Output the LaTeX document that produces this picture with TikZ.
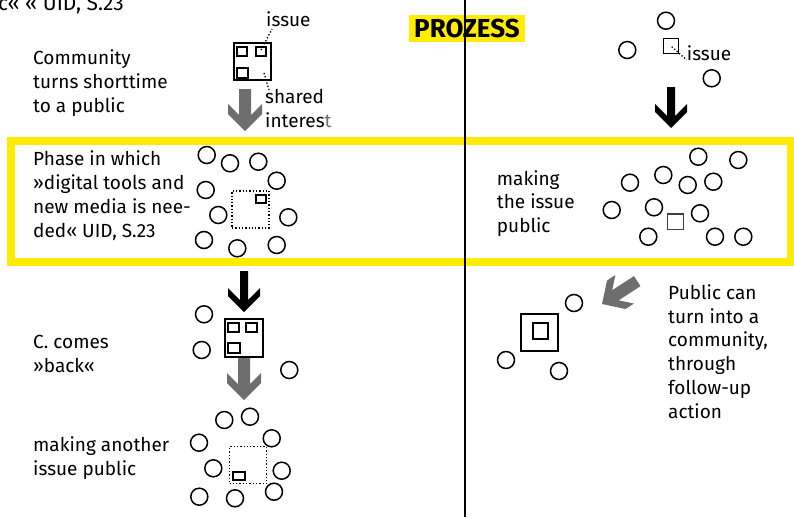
\documentclass[tikz,border=0pt]{standalone}
\usepackage{fontspec}
\setmainfont{Fira Sans}
\definecolor{hlyellow}{RGB}{255,236,0}
\definecolor{arrowgray}{RGB}{110,110,110}
\tikzset{
  txt/.style={font=\fontsize{19}{23.7}\selectfont, align=left, anchor=base west, inner sep=0pt},
  circ/.style={circle, draw, line width=1.5pt, minimum size=17pt, inner sep=0pt},
  thickbox/.style={draw, line width=2pt, inner sep=0pt},
  smallbox/.style={draw, line width=1.8pt, inner sep=0pt},
  thinbox/.style={draw, line width=1.2pt, inner sep=0pt},
  dotbox/.style={draw, line width=1.3pt, dotted, inner sep=0pt, minimum size=37pt},
  leader/.style={line width=1.3pt, dotted},
  pics/grayarrow/.style={code={
    \fill[arrowgray] (0,0) -- (-17,-17) -- (-17,-27) -- (-6,-16) -- (-6,-42)
      -- (6,-42) -- (6,-16) -- (17,-27) -- (17,-17) -- cycle;}},
  pics/blackarrow/.style={code={
    \fill[black] (0,0) -- (-16,-16) -- (-16,-24) -- (-4,-12) -- (-4,-41)
      -- (4,-41) -- (4,-12) -- (16,-24) -- (16,-16) -- cycle;}},
}
\begin{document}
\begin{tikzpicture}[x=1pt,y=-1pt]
\useasboundingbox (0,0) rectangle (794,517);
\clip (0,0) rectangle (794,517);

% yellow phase frame
\draw[hlyellow, line width=8pt] (11,141) rectangle (791,262);
% title highlight
\fill[hlyellow] (409,15) rectangle (525,42);
% divider
\draw[line width=1.6pt] (465,0) -- (465,517);
\node[font=\fontsize{26}{30}\selectfont\bfseries, inner sep=0pt] (title) at (467,28.5) {PROZESS};

% clipped quote at the very top
\node[txt, font=\fontsize{21}{24}\selectfont] (topq) at (-2,10.5) {c« « UID, S.23};

% ---------- left column ----------
\node[txt] (t1) at (33,112) {Community\\turns shorttime\\to a public};
\node[thickbox, minimum width=37pt, minimum height=37pt] (b1) at (252,61.7) {};
\node[smallbox, minimum width=10.5pt, minimum height=9pt] (b1a) at (242,51.3) {};
\node[smallbox, minimum width=10.5pt, minimum height=9pt] (b1b) at (261,51.3) {};
\node[smallbox, minimum width=11.5pt, minimum height=10pt] (b1c) at (242.5,73.3) {};
\coordinate (d1) at (261,50);
\coordinate (d2) at (264,73);
\node[txt] (iss1) at (266,26) {issue};
\node[txt] (sh1) at (265,127.5) {shared\\interes\textcolor{arrowgray}{t}};
\draw[leader] (d1) -- (272,29);
\draw[leader] (d2) -- (269,90);
\pic at (245,131) {grayarrow};

% phase box, left
\node[txt] (t2) at (33,237) {Phase in which\\»digital tools and\\new media is nee-\\ded« UID, S.23};
\node[dotbox] (db1) at (250.5,209.5) {};
\node[smallbox, minimum width=10pt, minimum height=8pt] (sb1) at (260.7,199.2) {};
\foreach \n/\p in {1/{206.7,155}, 2/{230,163.3}, 3/{258.3,161.7}, 4/{276.7,180.7},
                   5/{205.7,190}, 6/{218.3,215}, 7/{288.3,217.3}, 8/{204,240},
                   9/{237.3,248.3}, 10/{276.7,245}}
  \node[circ] (p\n) at (\p) {};

% community comes back
\pic at (244,312) {blackarrow};
\node[txt] (t3) at (33,372.5) {C. comes\\»back«};
\node[thickbox, minimum width=38pt, minimum height=38pt] (b2) at (244,338) {};
\node[smallbox, minimum width=10.7pt, minimum height=8.3pt] (b2a) at (233.7,327.5) {};
\node[smallbox, minimum width=11.3pt, minimum height=8.3pt] (b2b) at (251.7,327.5) {};
\node[smallbox, minimum width=11.7pt, minimum height=10pt] (b2c) at (234.2,348.3) {};
\node[circ] (q1) at (204,314.3) {};
\node[circ] (q2) at (201.7,350) {};
\node[circ] (q3) at (289.3,370) {};
\pic at (244,400) {grayarrow};

% another issue
\node[txt] (t4) at (33,475) {making another\\issue public};
\node[dotbox] (db2) at (248,465.3) {};
\node[smallbox, minimum width=11.7pt, minimum height=8.3pt] (sb2) at (239.2,475.8) {};
\foreach \n/\p in {1/{224.3,420}, 2/{250,416.7}, 3/{271.7,438.3}, 4/{199,442.7},
                   5/{213.3,468.3}, 6/{281.7,470.7}, 7/{199.3,496.7}, 8/{235,498.3},
                   9/{274,491.7}}
  \node[circ] (r\n) at (\p) {};

% ---------- right column ----------
\node[circ] (u1) at (666,20.7) {};
\node[circ] (u2) at (627.3,50) {};
\node[circ] (u3) at (711.7,78.3) {};
\node[thinbox, minimum size=15pt] (sq1) at (670.8,45.8) {};
\coordinate (d3) at (671.7,46.7);
\node[txt] (iss2) at (686.7,60) {issue};
\draw[leader] (d3) -- (iss2.base west);
\pic at (671,128) {blackarrow};

\node[txt] (t5) at (496.7,232.5) {making\\the issue\\public};
\foreach \n/\p in {1/{698.3,156.7}, 2/{738.3,160}, 3/{630,182.7}, 4/{663.3,175},
                   5/{687.7,185}, 6/{713.3,181.7}, 7/{611.7,210}, 8/{654,207.3},
                   9/{700,213.3}, 10/{648.3,236.7}, 11/{715,236.7}, 12/{743.3,236.7}}
  \node[circ] (v\n) at (\p) {};
\node[thinbox, draw=black!75, minimum size=15.5pt] (sq2) at (675.5,221.7) {};

\pic[rotate=-57] at (602,304) {grayarrow};
\node[txt] (t6) at (668,418) {Public can\\turn into a\\community,\\through\\follow-up\\action};
\node[circ] (w1) at (574,303) {};
\node[circ] (w2) at (506,360) {};
\node[circ] (w3) at (559,371) {};
\node[thinbox, minimum size=37pt] (sq3) at (539.5,332.5) {};
\node[thinbox, minimum width=15pt, minimum height=16pt] (sq4) at (540.5,331) {};
\end{tikzpicture}
\end{document}
